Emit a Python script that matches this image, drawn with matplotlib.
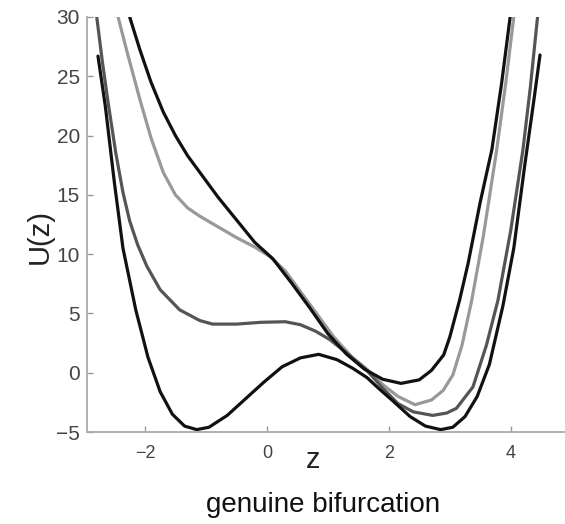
import matplotlib
matplotlib.use("Agg")
import matplotlib.pyplot as plt

# values
z_deep = [-2.77, -2.65, -2.5, -2.36, -2.15, -1.95, -1.75, -1.55, -1.35, -1.15, -0.95, -0.65,
          -0.35, -0.05, 0.25, 0.55, 0.85, 1.15, 1.4, 1.64, 1.85, 2.05, 2.35, 2.6, 2.85, 3.05,
          3.25, 3.45, 3.65, 3.87, 4.05, 4.23, 4.38, 4.48]
u_deep = [26.7, 22.5, 16.0, 10.5, 5.3, 1.3, -1.6, -3.5, -4.5, -4.8, -4.6, -3.6,
          -2.2, -0.8, 0.5, 1.25, 1.55, 1.1, 0.4, -0.4, -1.4, -2.3, -3.7, -4.5, -4.8, -4.6,
          -3.7, -2.0, 0.7, 5.6, 10.5, 17.5, 23.0, 26.8]

z_flat = [-2.79, -2.70, -2.61, -2.48, -2.36, -2.25, -2.12, -1.97, -1.75, -1.43, -1.10, -0.89,
          -0.5, -0.1, 0.3, 0.55, 0.8, 1.03, 1.3, 1.64, 1.9, 2.15, 2.4, 2.72, 2.95, 3.11,
          3.38, 3.6, 3.79, 4.0, 4.2, 4.32, 4.44]
u_flat = [30.0, 26.3, 23.0, 18.6, 15.2, 12.8, 10.8, 9.0, 7.0, 5.3, 4.4, 4.1,
          4.1, 4.25, 4.3, 4.05, 3.5, 2.8, 1.7, 0.2, -1.3, -2.6, -3.3, -3.6, -3.4, -3.0,
          -1.2, 2.3, 6.1, 12.0, 18.8, 24.0, 30.0]

z_shoulder = [-2.44, -2.30, -2.08, -1.90, -1.70, -1.50, -1.30, -1.10, -0.80, -0.50, -0.20, 0.05,
              0.3, 0.5, 0.8, 1.1, 1.4, 1.64, 1.9, 2.15, 2.43, 2.7, 2.89, 3.05, 3.2, 3.36,
              3.55, 3.77, 3.92, 4.05]
u_shoulder = [30.0, 27.2, 23.0, 19.8, 16.9, 15.0, 13.9, 13.2, 12.3, 11.4, 10.6, 9.8,
              8.6, 7.2, 5.1, 3.0, 1.3, 0.3, -1.0, -2.0, -2.7, -2.3, -1.5, -0.2, 2.3, 6.1,
              11.5, 18.8, 24.5, 30.0]

z_single = [-2.25, -2.08, -1.9, -1.7, -1.5, -1.3, -1.1, -0.8, -0.5, -0.2, 0.1, 0.4,
            0.7, 1.0, 1.3, 1.6, 1.9, 2.2, 2.5, 2.7, 2.9, 3.0, 3.16, 3.3, 3.5, 3.69,
            3.85, 3.99]
u_single = [30.0, 27.2, 24.5, 22.0, 20.0, 18.3, 16.9, 14.8, 12.9, 11.0, 9.6, 7.6,
            5.5, 3.3, 1.6, 0.3, -0.55, -0.9, -0.6, 0.2, 1.5, 3.0, 6.1, 9.2, 14.4, 18.8,
            24.4, 30.0]

xticks = [-2, 0, 2, 4]
yticks = [-5, 0, 5, 10, 15, 20, 25, 30]

plt.rcParams['font.family'] = ['Liberation Sans', 'DejaVu Sans']

fig = plt.figure(figsize=(5.65, 5.24), dpi=100)
ax = fig.add_axes([87 / 565, 92 / 524, 478 / 565, 415 / 524])

style = dict(lw=2.3, solid_capstyle='round', solid_joinstyle='round')
ax.plot(z_shoulder, u_shoulder, color='#999999', **style)
ax.plot(z_flat, u_flat, color='#555555', **style)
ax.plot(z_deep, u_deep, color='#111111', **style)
ax.plot(z_single, u_single, color='#111111', **style)

ax.set_xlim(-2.95, 4.89)
ax.set_ylim(-5, 30)
ax.set_xticks(xticks)
ax.set_yticks(yticks)
ax.set_xticklabels([str(t).replace('-', '\u2212') for t in xticks], fontsize=13, color='#444444')
ax.set_yticklabels([str(t).replace('-', '\u2212') for t in yticks], fontsize=15, color='#444444')
ax.tick_params(direction='in', length=4, width=1, color='#999999')
ax.tick_params(axis='x', pad=9)
ax.tick_params(axis='y', pad=5)

for s in ['top', 'right']:
    ax.spines[s].set_visible(False)
for s in ['left', 'bottom']:
    ax.spines[s].set_color('#aaaaaa')
    ax.spines[s].set_linewidth(1.3)

fig.text(313 / 565, 1 - 460 / 524, 'z', fontsize=21, color='#222222', ha='center', va='center')
fig.text(40 / 565, 1 - 236 / 524, 'U(z)', fontsize=21, color='#222222', ha='center', va='center',
         rotation=90)
fig.text(323 / 565, 1 - 505 / 524, 'genuine bifurcation', fontsize=20, color='#111111',
         ha='center', va='center')

fig.savefig('out.png', dpi=100)
